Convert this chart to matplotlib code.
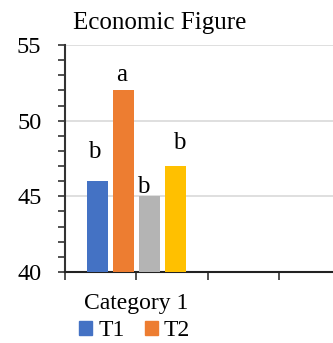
import matplotlib
matplotlib.use("Agg")
import matplotlib.pyplot as plt
from matplotlib.ticker import MultipleLocator, FixedLocator, NullFormatter
from matplotlib.patches import Patch

# ---- data ----
categories = ["Category 1"]
series_names = ["T1", "T2", "T3", "T4"]
values = [46, 52, 45, 47]
letters = ["b", "a", "b", "b"]

colors = ["#4472C4", "#ED7D31", "#B4B4B4", "#FFC000"]
label_dy = [1.2, 0.3, -0.1, 0.8]
label_dx = [-0.04, -0.02, -0.08, 0.05]

plt.rcParams['font.family'] = ['Liberation Serif', 'DejaVu Serif']

fig = plt.figure(figsize=(3.33, 3.43), dpi=100)
ax = fig.add_axes([65/333, 1 - 272/343, 1 - 65/333, (272 - 45)/343])

step = 0.364
width = 0.294
center = 1.0
offsets = [(i - 1.5) * step for i in range(len(values))]
for i, (v, c) in enumerate(zip(values, colors)):
    x = center + offsets[i]
    ax.bar(x, v - 40, bottom=40, width=width, color=c, zorder=3)
    ax.text(x + label_dx[i], v + label_dy[i], letters[i], ha='center', va='bottom',
            fontsize=18, color='black')

ax.set_ylim(40, 55)
ax.set_xlim(0, 3.75)
ax.yaxis.set_major_locator(MultipleLocator(5))
ax.yaxis.set_minor_locator(MultipleLocator(1))
ax.grid(axis='y', which='major', color='#D9D9D9', linewidth=1.2, zorder=0)
ax.tick_params(axis='y', which='both', direction='out', length=5, width=1.2,
               color='#333333', labelsize=17.5, pad=12)
ax.xaxis.set_major_locator(FixedLocator([0, 1, 2, 3]))
ax.xaxis.set_major_formatter(NullFormatter())
ax.tick_params(axis='x', which='major', direction='out', length=6, width=1.2, color='#333333')

for s in ['top', 'right']:
    ax.spines[s].set_visible(False)
ax.spines['left'].set_color('#333333')
ax.spines['left'].set_linewidth(1.5)
ax.spines['bottom'].set_color('#222222')
ax.spines['bottom'].set_linewidth(1.5)

fig.text(136/333, 1 - 304/343, categories[0], ha='center', va='center', fontsize=17)
fig.text(73/333, 1 - 29/343, "Economic Figure", ha='left', va='baseline', fontsize=18)

handles = [Patch(color=colors[i], label=series_names[i]) for i in range(2)]
leg = fig.legend(handles=handles, loc='lower left', bbox_to_anchor=(70/333, -0.022),
                 ncol=2, frameon=False, fontsize=17, handlelength=0.55, handleheight=0.55,
                 handletextpad=0.25, columnspacing=0.85, borderaxespad=0)

fig.savefig("out.png", dpi=100)
